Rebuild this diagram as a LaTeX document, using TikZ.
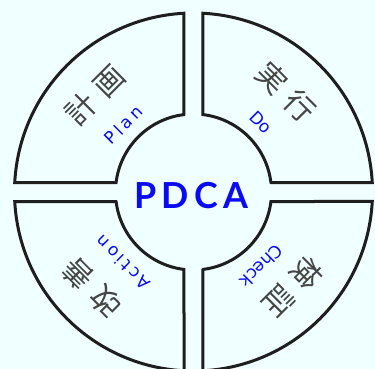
\documentclass[tikz,border=0pt]{standalone}
\usepackage{fontspec}
\newfontfamily\jpfont{Noto Sans CJK JP}
\newfontfamily\labfont{DejaVu Sans}
\newfontfamily\titlefont{Lato}
\definecolor{bgc}{HTML}{F0FFFF}
\definecolor{ringc}{HTML}{1E1E1E}
\definecolor{kanjic}{HTML}{454545}
\definecolor{bluec}{HTML}{0A0AF5}
\tikzset{
  seg/.style={draw=ringc, line width=3bp, fill=bgc, line join=miter},
  kj/.style={text=kanjic, inner sep=0pt, font=\jpfont\fontsize{30}{30}\selectfont},
  en/.style={text=bluec, inner sep=0pt, font=\labfont\fontsize{17}{17}\selectfont},
  title/.style={text=bluec, inner sep=0pt, font=\titlefont\bfseries\fontsize{36}{36}\selectfont}
}
\begin{document}
\begin{tikzpicture}[x=1bp,y=1bp]
\useasboundingbox (-193.5,-177) rectangle (181.5,192);
\fill[bgc] (-193.5,-177) rectangle (181.5,192);
\clip (-193.5,-177) rectangle (181.5,192);
% gap half-width 9.5, outer radius 179, inner radius 78
\foreach \rot in {0,90,180,270}{
  \draw[seg, rotate=\rot]
    (-9.5,77.42) -- (-9.5,178.75)
    arc[start angle=93.04, end angle=176.96, radius=179]
    -- (-77.42,9.5)
    arc[start angle=173.0, end angle=97.0, radius=78]
    -- cycle;
}
\node[kj, rotate=45] (planjp) at (-98.5,97) {計\hspace{10pt}画};
\node[en, rotate=45] (plan) at (-70,67) {P\kern3.5pt l\kern3.5pt a\kern3.5pt n};
\node[kj, rotate=-45] (dojp) at (92.5,100) {実\hspace{10pt}行};
\node[en, rotate=-45] (do) at (67.5,70) {Do};
\node[kj, rotate=225] (checkjp) at (99.5,-95) {検\hspace{10pt}証};
\node[en, rotate=225] (check) at (68,-74) {Check};
\node[kj, rotate=135] (actjp) at (-101.5,-96) {改\hspace{10pt}善};
\node[en, rotate=135] (act) at (-70.5,-71) {A\kern3pt c\kern3pt t\kern3pt i\kern3pt o\kern3pt n};
\node[title] (pdca) at (-2,-4) {P\kern5.5pt D\kern5.5pt C\kern5.5pt A};
\end{tikzpicture}
\end{document}
